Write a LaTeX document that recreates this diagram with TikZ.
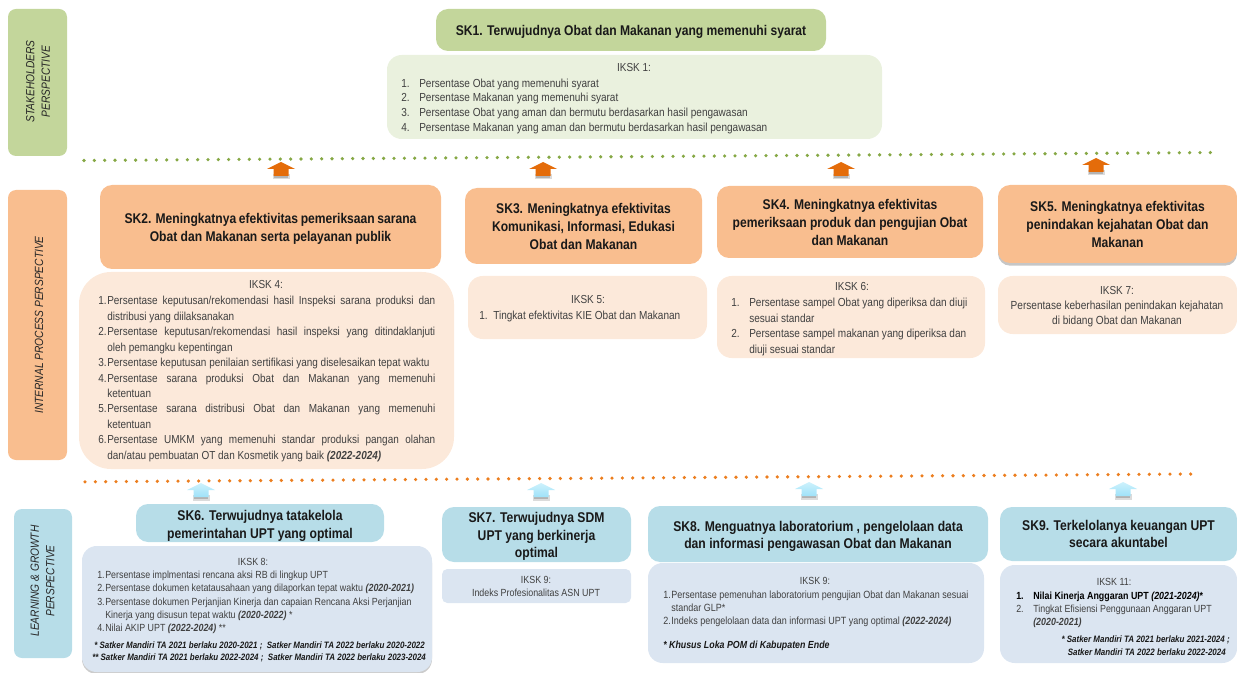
\documentclass[tikz,border=0pt]{standalone}
\usepackage{fontspec}
\setmainfont[FakeStretch=0.86]{Liberation Sans}
\usetikzlibrary{shadows}
\definecolor{grn}{HTML}{C3D69B}
\definecolor{grnl}{HTML}{EAF1DE}
\definecolor{org}{HTML}{F9BE8F}
\definecolor{orgl}{HTML}{FCE9DA}
\definecolor{blu}{HTML}{B7DDE8}
\definecolor{blul}{HTML}{DBE5F1}
\definecolor{arrO}{HTML}{E46C0A}
\definecolor{txt}{HTML}{404040}
\definecolor{arrBt}{HTML}{CDF1FC}
\definecolor{arrBb}{HTML}{9FE2F9}
\definecolor{dotg}{HTML}{86A845}
\definecolor{doto}{HTML}{EC7E1E}
\newcommand{\bx}[7][]{\node[#2,#1,minimum width={(#5-#3)*0.75pt},minimum height={(#6-#4)*0.75pt}] (#7) at ({(#3+#5)/2},{(#4+#6)/2})}
\newlength{\numw}
\newlength{\onepx}\setlength{\onepx}{0.75pt}
\newcommand{\itm}[2]{\makebox[\numw][l]{#1}#2}
\newcommand{\cnt}[1]{\hspace*{\numw}#1}
\newcommand{\jl}[2]{\makebox[#1\onepx][s]{#2}}
\newcommand{\dn}[1]{\rule{0pt}{#1pt}}
\newcommand{\uparrpath}[2]{(#1,#2) -- (#1+14,#2+7) -- (#1+7.5,#2+7) -- (#1+7.5,#2+14) -- (#1-7.5,#2+14) -- (#1-7.5,#2+7) -- (#1-14,#2+7) -- cycle}
\newcommand{\shad}[2]{%
 \fill[black,opacity=.14] (#1-8.5,#2+12) rectangle (#1+8.5,#2+17.5);
 \fill[black,opacity=.18] (#1-7,#2+13) rectangle (#1+7,#2+16);}
\newcommand{\uparrO}[2]{\shad{#1}{#2}\fill[arrO] \uparrpath{#1}{#2};}
\newcommand{\uparrB}[2]{\shad{#1}{#2}\shade[top color=arrBt,bottom color=arrBb] \uparrpath{#1}{#2};}
\tikzset{
 x=0.75pt,y=-0.75pt,
 persp/.style={rounded corners=6pt,inner sep=0pt,font=\fontsize{8.9}{11.6}\selectfont\itshape,text=black!85,align=center},
 skbox/.style={rounded corners=9pt,inner sep=0pt,align=center,text=black!90,font=\fontsize{10.55}{13.5}\selectfont\bfseries},
 sklg/.style={skbox,font=\fontsize{10.6}{13.1}\selectfont\bfseries},
 ikbox/.style={rounded corners=11pt,inner sep=0pt},
 ttl/.style={inner sep=0pt,text=txt,font=\fontsize{8.7}{11}\selectfont,align=center},
 ttls/.style={ttl,font=\fontsize{7.75}{9.8}\selectfont},
 lst/.style={inner sep=0pt,anchor=north west,text=txt,align=left},
 lstm/.style={lst,font=\fontsize{8.75}{11}\selectfont},
 lsts/.style={lst,font=\fontsize{7.75}{9.9}\selectfont},
 note/.style={inner sep=0pt,text=black!90,font=\fontsize{6.95}{9}\selectfont\bfseries\itshape},
 dotline/.style={line width=2.7pt,line cap=round,dash pattern=on 0pt off 7.75pt},
}
\begin{document}
\begin{tikzpicture}
\useasboundingbox (0,0) rectangle (1237,673);
% Perspectives
\bx{persp,fill=grn}{8}{9}{67}{156}{p1}{};
\node[persp,rotate=90] (p1t) at (38,81.5) {STAKEHOLDERS\\PERSPECTIVE};
\bx{persp,fill=org}{8}{190}{67}{460}{p2}{};
\node[persp,rotate=90] (p2t) at (39,325) {INTERNAL PROCESS PERSPECTIVE};
\bx{persp,fill=blu}{14}{509}{72}{658}{p3}{};
\node[persp,rotate=90] (p3t) at (42.5,581) {LEARNING \& GROWTH\\PERSPECTIVE};
% Dotted lines
\coordinate (g1) at (84,160.5);\coordinate (g2) at (1216,152.5);
\coordinate (o1) at (85,481.8);\coordinate (o2) at (1196,474);
\draw[dotline,draw=dotg] (g1) -- (g2);
\draw[dotline,draw=doto] (o1) -- (o2);
% Arrows
\uparrO{281}{162}
\uparrO{543}{162}
\uparrO{841}{162}
\uparrO{1096}{158}
\uparrB{201}{483}
\uparrB{541}{483}
\uparrB{809}{482}
\uparrB{1123}{482}
% SK1
\bx{skbox,fill=grn}{436}{9}{826}{51}{sk1}{\dn{10}SK1. Terwujudnya Obat dan Makanan yang memenuhi syarat};
\bx{ikbox,fill=grnl}{387}{55}{882}{139}{ik1}{};
\node[ttl] (ik1t) at (634,68) {IKSK 1:};
\setlength{\numw}{18\onepx}
\node[lstm] (ik1l) at (401,78.5) {\itm{1.}{Persentase Obat yang memenuhi syarat}\\\itm{2.}{Persentase Makanan yang memenuhi syarat}\\\itm{3.}{Persentase Obat yang aman dan bermutu berdasarkan hasil pengawasan}\\\itm{4.}{Persentase Makanan yang aman dan bermutu berdasarkan hasil pengawasan}};
% SK2-5
\bx{skbox,fill=org}{100}{185}{441}{269}{sk2}{\dn{10}\makebox[292\onepx][s]{SK2. Meningkatnya efektivitas pemeriksaan sarana}\\Obat dan Makanan serta pelayanan publik};
\bx{skbox,fill=org}{465}{188}{702}{264}{sk3}{SK3. Meningkatnya efektivitas\\Komunikasi, Informasi, Edukasi\\Obat dan Makanan};
\bx{skbox,fill=org}{717}{186}{983}{258}{sk4}{SK4. Meningkatnya efektivitas\\pemeriksaan  produk dan pengujian Obat\\dan Makanan};
\bx{skbox,fill=org,drop shadow={shadow xshift=0pt,shadow yshift=-2pt,opacity=.45}}{998}{185}{1237}{263}{sk5}{SK5. Meningkatnya efektivitas\\penindakan kejahatan  Obat dan\\Makanan};
% IKSK 4
\bx[rounded corners=24pt]{ikbox,fill=orgl}{79}{272}{454}{469}{ik4}{};
\node[ttl] (ik4t) at (266,285) {IKSK 4:};
\setlength{\numw}{9\onepx}
\node[lstm,font=\fontsize{8.7}{11.6}\selectfont] (ik4l) at (98,296) {%
\itm{1.}{\jl{328}{Persentase keputusan/rekomendasi hasil Inspeksi sarana produksi dan}}\\
\cnt{distribusi yang diilaksanakan}\\
\itm{2.}{\jl{328}{Persentase keputusan/rekomendasi hasil inspeksi yang ditindaklanjuti}}\\
\cnt{oleh pemangku kepentingan}\\
\itm{3.}{Persentase keputusan penilaian sertifikasi yang diselesaikan tepat waktu}\\
\itm{4.}{\jl{328}{Persentase sarana produksi Obat dan Makanan yang memenuhi}}\\
\cnt{ketentuan}\\
\itm{5.}{\jl{328}{Persentase sarana distribusi Obat  dan Makanan yang memenuhi}}\\
\cnt{ketentuan}\\
\itm{6.}{\jl{328}{Persentase UMKM yang memenuhi standar produksi pangan olahan}}\\
\cnt{dan/atau pembuatan OT dan Kosmetik yang baik \textbf{\textit{(2022-2024)}}}};
% IKSK 5
\bx{ikbox,fill=orgl}{468}{276}{707}{339}{ik5}{};
\node[ttl] (ik5t) at (588,299.5) {IKSK 5:};
\setlength{\numw}{14\onepx}
\node[lstm] (ik5l) at (479,311) {\itm{1.}{Tingkat efektivitas  KIE Obat dan Makanan}};
% IKSK 6
\bx{ikbox,fill=orgl}{717}{276}{985}{358}{ik6}{};
\node[ttl] (ik6t) at (852,287) {IKSK 6:};
\setlength{\numw}{18\onepx}
\node[lstm,font=\fontsize{8.75}{11.6}\selectfont] (ik6l) at (731,298) {\itm{1.}{Persentase sampel Obat yang diperiksa dan diuji}\\\cnt{sesuai standar}\\\itm{2.}{Persentase sampel makanan yang diperiksa dan}\\\cnt{diuji sesuai standar}};
% IKSK 7
\bx{ikbox,fill=orgl}{998}{276}{1237}{334}{ik7}{};
\node[ttl] (ik7t) at (1117,291) {IKSK 7:};
\node[ttl,font=\fontsize{8.8}{10.6}\selectfont] (ik7l) at (1117,314) {Persentase keberhasilan penindakan kejahatan\\di bidang Obat dan Makanan};
% SK6-9
\bx{sklg,fill=blu}{136}{504}{384}{542}{sk6}{\dn{12.3}SK6. Terwujudnya tatakelola\\pemerintahan UPT yang optimal};
\bx{sklg,fill=blu}{442}{507}{631}{562}{sk7}{\dn{11}SK7. Terwujudnya SDM\\UPT yang berkinerja\\optimal};
\bx{sklg,fill=blu}{648}{506}{988}{562}{sk8}{\dn{11}SK8. Menguatnya laboratorium , pengelolaan data\\dan informasi pengawasan Obat dan Makanan};
\bx{sklg,fill=blu}{1000}{507}{1237}{561}{sk9}{SK9. Terkelolanya keuangan UPT\\secara akuntabel};
% IKSK 8
\bx{ikbox,fill=blul,drop shadow={shadow xshift=0pt,shadow yshift=-1.5pt,opacity=.4}}{82}{546}{432}{672}{ik8}{};
\node[ttls] (ik8t) at (253,562) {IKSK 8:};
\setlength{\numw}{8\onepx}
\node[lsts] (ik8l) at (97,571) {\itm{1.}{Persentase implmentasi rencana aksi RB di lingkup UPT}\\\itm{2.}{Persentase dokumen ketatausahaan yang dilaporkan tepat waktu \textbf{\textit{(2020-2021)}}}\\\itm{3.}{Persentase dokumen Perjanjian Kinerja dan capaian Rencana Aksi Perjanjian}\\\cnt{Kinerja yang disusun tepat waktu \textbf{\textit{(2020-2022)}} *}\\\itm{4.}{Nilai AKIP UPT \textbf{\textit{(2022-2024)}} **}};
\node[note,anchor=west] (ik8n1) at (94,646) {* Satker Mandiri TA 2021 berlaku 2020-2021 ;\ \ Satker Mandiri TA 2022 berlaku 2020-2022};
\node[note,anchor=west] (ik8n2) at (92,658) {** Satker Mandiri TA 2021 berlaku 2022-2024 ;\ \ Satker Mandiri TA 2022 berlaku 2023-2024};
% IKSK 9a
\bx[rounded corners=4pt]{ikbox,fill=blul}{442}{569}{631}{603}{ik9a}{};
\node[ttls] (ik9at) at (536,580) {IKSK 9:};
\node[ttls] (ik9al) at (536,593) {Indeks Profesionalitas ASN UPT};
% IKSK 9b
\bx{ikbox,fill=blul}{648}{563}{984}{663}{ik9b}{};
\node[ttls] (ik9bt) at (815,581) {IKSK 9:};
\node[lsts,font=\fontsize{7.85}{9.9}\selectfont] (ik9bl) at (663,590.5) {\itm{1.}{Persentase pemenuhan laboratorium pengujian Obat dan Makanan sesuai}\\\cnt{standar GLP*}\\\itm{2.}{Indeks pengelolaan data dan informasi UPT yang optimal \textbf{\textit{(2022-2024)}}}};
\node[note,anchor=west,font=\fontsize{7.7}{9.8}\selectfont\bfseries\itshape] (ik9bn) at (663,646) {* Khusus Loka POM di Kabupaten Ende};
% IKSK 11
\bx{ikbox,fill=blul}{1000}{565}{1237}{663}{ik11}{};
\node[ttls] (ik11t) at (1114,582) {IKSK 11:};
\setlength{\numw}{17\onepx}
\node[lsts,font=\fontsize{7.75}{10}\selectfont] (ik11l) at (1016,591.5) {\itm{\textbf{\color{black}1.}}{\textbf{\color{black}Nilai Kinerja Anggaran UPT \textit{(2021-2024)}*}}\\\itm{2.}{Tingkat Efisiensi Penggunaan Anggaran UPT}\\\cnt{\textbf{\textit{(2020-2021)}}}};
\node[note,anchor=east] (ik11n1) at (1230,640) {* Satker Mandiri TA 2021 berlaku 2021-2024 ;};
\node[note,anchor=east] (ik11n2) at (1226,652) {Satker Mandiri TA 2022 berlaku 2022-2024};
\end{tikzpicture}
\end{document}
